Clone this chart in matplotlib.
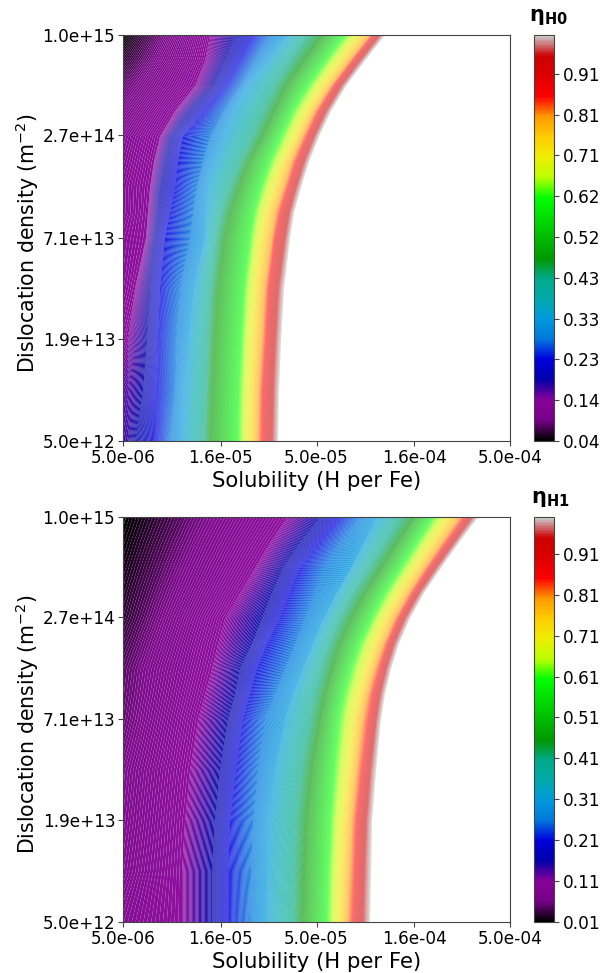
#!/usr/bin/env python3
"""Two contour maps of eta against solubility and dislocation density."""

import matplotlib
matplotlib.use("Agg")
import matplotlib.pyplot as plt
import numpy as np
from matplotlib.cm import ScalarMappable
from matplotlib.colors import ListedColormap, Normalize

# log10 of dislocation density, one value per table row (bottom to top)
LOG_RHO = [12.699, 12.987, 13.274, 13.562, 13.850, 13.994, 14.137,
           14.281, 14.425, 14.569, 14.712, 14.856, 15.000]

# Per row, log10(solubility) at which eta takes the
# matching value. The first five columns pair with the *_ETA_LEFT rows, the
# other nine with the fixed *_ETA_BANDS. Past the last column eta is above
# the colour scale and nothing is drawn.
H0_LOG_SOL = [
    [-5.301, -5.275, -5.239, -5.125, -5.058, -4.996, -4.888, -4.851, -4.707, -4.655, -4.603, -4.583, -4.531, -4.500],
    [-5.301, -5.275, -5.198, -5.125, -5.032, -4.981, -4.877, -4.841, -4.702, -4.650, -4.598, -4.578, -4.526, -4.495],
    [-5.301, -5.275, -5.177, -5.120, -5.027, -4.959, -4.866, -4.830, -4.691, -4.639, -4.582, -4.562, -4.515, -4.484],
    [-5.301, -5.239, -5.161, -5.110, -5.006, -4.934, -4.851, -4.810, -4.676, -4.624, -4.567, -4.547, -4.500, -4.469],
    [-5.301, -5.182, -5.136, -5.084, -4.955, -4.877, -4.820, -4.774, -4.645, -4.593, -4.531, -4.516, -4.464, -4.438],
    [-5.301, -5.172, -5.120, -5.058, -4.939, -4.872, -4.794, -4.743, -4.624, -4.567, -4.510, -4.489, -4.443, -4.417],
    [-5.301, -5.161, -5.110, -5.032, -4.919, -4.862, -4.753, -4.701, -4.588, -4.526, -4.469, -4.448, -4.407, -4.381],
    [-5.301, -5.141, -5.084, -5.017, -4.888, -4.826, -4.702, -4.650, -4.542, -4.480, -4.428, -4.407, -4.366, -4.340],
    [-5.301, -5.110, -5.048, -4.991, -4.851, -4.779, -4.639, -4.577, -4.484, -4.417, -4.371, -4.350, -4.314, -4.288],
    [-5.301, -5.032, -4.955, -4.877, -4.779, -4.722, -4.583, -4.515, -4.422, -4.355, -4.309, -4.288, -4.252, -4.226],
    [-5.301, -4.929, -4.836, -4.774, -4.696, -4.649, -4.520, -4.453, -4.344, -4.277, -4.226, -4.210, -4.174, -4.148],
    [-5.301, -4.877, -4.774, -4.696, -4.619, -4.551, -4.438, -4.360, -4.252, -4.184, -4.128, -4.112, -4.076, -4.050],
    [-5.301, -4.851, -4.722, -4.629, -4.541, -4.453, -4.350, -4.267, -4.154, -4.087, -4.025, -4.009, -3.973, -3.947],
]
H0_ETA_LEFT = [
    [0.165, 0.170, 0.184, 0.232, 0.280],
    [0.155, 0.160, 0.184, 0.232, 0.280],
    [0.136, 0.141, 0.184, 0.232, 0.280],
    [0.126, 0.136, 0.184, 0.232, 0.280],
    [0.122, 0.136, 0.184, 0.232, 0.280],
    [0.117, 0.136, 0.184, 0.232, 0.280],
    [0.117, 0.136, 0.184, 0.232, 0.280],
    [0.112, 0.136, 0.184, 0.232, 0.280],
    [0.107, 0.136, 0.184, 0.232, 0.280],
    [0.093, 0.136, 0.184, 0.232, 0.280],
    [0.078, 0.136, 0.184, 0.232, 0.280],
    [0.059, 0.136, 0.184, 0.232, 0.280],
    [0.040, 0.136, 0.184, 0.232, 0.280],
]
H0_ETA_BANDS = [0.328, 0.424, 0.472, 0.616, 0.712, 0.808, 0.856, 0.952, 1.000]
H0_TICKS = [0.04, 0.1365, 0.233, 0.3295, 0.426, 0.5225, 0.619, 0.7155, 0.812, 0.9085]
H0_TICK_LABELS = ["0.04", "0.14", "0.23", "0.33", "0.43", "0.52", "0.62", "0.71", "0.81", "0.91"]

H1_LOG_SOL = [
    [-5.301, -4.996, -4.841, -4.758, -4.645, -4.557, -4.428, -4.371, -4.247, -4.190, -4.139, -4.113, -4.061, -4.025],
    [-5.301, -4.996, -4.841, -4.758, -4.640, -4.556, -4.422, -4.360, -4.241, -4.184, -4.128, -4.102, -4.055, -4.019],
    [-5.301, -4.981, -4.826, -4.748, -4.629, -4.551, -4.412, -4.350, -4.231, -4.169, -4.117, -4.092, -4.045, -4.014],
    [-5.301, -4.955, -4.800, -4.717, -4.603, -4.515, -4.386, -4.324, -4.210, -4.143, -4.091, -4.065, -4.024, -3.993],
    [-5.301, -4.913, -4.758, -4.681, -4.567, -4.464, -4.340, -4.278, -4.185, -4.113, -4.061, -4.030, -3.994, -3.968],
    [-5.301, -4.877, -4.722, -4.645, -4.516, -4.422, -4.314, -4.252, -4.159, -4.087, -4.035, -4.009, -3.973, -3.947],
    [-5.301, -4.841, -4.696, -4.608, -4.464, -4.371, -4.278, -4.216, -4.123, -4.050, -3.999, -3.973, -3.942, -3.916],
    [-5.301, -4.810, -4.634, -4.557, -4.412, -4.319, -4.237, -4.175, -4.077, -4.009, -3.953, -3.932, -3.901, -3.875],
    [-5.301, -4.774, -4.583, -4.490, -4.360, -4.262, -4.180, -4.118, -4.014, -3.952, -3.896, -3.875, -3.844, -3.818],
    [-5.301, -4.696, -4.531, -4.438, -4.309, -4.195, -4.112, -4.045, -3.947, -3.879, -3.823, -3.802, -3.771, -3.745],
    [-5.301, -4.619, -4.474, -4.386, -4.257, -4.122, -4.029, -3.962, -3.864, -3.797, -3.740, -3.719, -3.683, -3.657],
    [-5.301, -4.541, -4.386, -4.283, -4.169, -4.055, -3.952, -3.879, -3.781, -3.714, -3.652, -3.626, -3.590, -3.564],
    [-5.301, -4.453, -4.283, -4.180, -4.076, -3.988, -3.869, -3.792, -3.699, -3.626, -3.559, -3.533, -3.497, -3.466],
]
H1_ETA_LEFT = [
    [0.079, 0.109, 0.159, 0.208, 0.258],
    [0.069, 0.109, 0.159, 0.208, 0.258],
    [0.064, 0.109, 0.159, 0.208, 0.258],
    [0.060, 0.109, 0.159, 0.208, 0.258],
    [0.050, 0.109, 0.159, 0.208, 0.258],
    [0.047, 0.109, 0.159, 0.208, 0.258],
    [0.045, 0.109, 0.159, 0.208, 0.258],
    [0.038, 0.109, 0.159, 0.208, 0.258],
    [0.030, 0.109, 0.159, 0.208, 0.258],
    [0.025, 0.109, 0.159, 0.208, 0.258],
    [0.020, 0.109, 0.159, 0.208, 0.258],
    [0.015, 0.109, 0.159, 0.208, 0.258],
    [0.010, 0.109, 0.159, 0.208, 0.258],
]
H1_ETA_BANDS = [0.307, 0.406, 0.456, 0.604, 0.703, 0.802, 0.852, 0.951, 1.000]
H1_TICKS = [0.01, 0.11, 0.21, 0.31, 0.41, 0.51, 0.61, 0.71, 0.81, 0.91]
H1_TICK_LABELS = ["0.01", "0.11", "0.21", "0.31", "0.41", "0.51", "0.61", "0.71", "0.81", "0.91"]

SOL_TICKS = [5.0e-6, 1.6e-5, 5.0e-5, 1.6e-4, 5.0e-4]
RHO_TICKS = [5.0e12, 1.9e13, 7.1e13, 2.7e14, 1.0e15]

W, H = 603, 973
AXIS_GREY = "#444444"


def washed_cmap():
    # the map is paler than its colour bar; the contour seams add the rest
    t = np.linspace(0, 1, 512)
    base = plt.get_cmap("nipy_spectral")(t)[:, :3]
    wash = np.interp(t, [0, 0.05, 0.3, 0.85, 1.0], [0.0, 0.05, 0.1, 0.14, 0.14])[:, None]
    return ListedColormap(base + (1 - base) * wash)


def draw_panel(fig, top, bottom, log_sol, eta_left, eta_bands, ticks, tick_labels, title, title_x):
    ax = fig.add_axes([123 / W, 1 - bottom / H, 387 / W, (bottom - top) / H])
    cax = fig.add_axes([534 / W, 1 - bottom / H, 20 / W, (bottom - top) / H])

    x = np.array(log_sol)
    y = np.repeat(np.array(LOG_RHO)[:, None], x.shape[1], axis=1)
    bands = np.repeat(np.array(eta_bands)[None, :], x.shape[0], axis=0)
    z = np.hstack([np.array(eta_left), bands])
    vmin = ticks[0]
    norm = Normalize(vmin=vmin, vmax=1.0)
    levels = np.linspace(vmin, 1.0, 500)
    ax.contourf(x, y, z, levels=levels, cmap=washed_cmap(), norm=norm, antialiased=True)

    ax.set_xlim(np.log10(SOL_TICKS[0]), np.log10(SOL_TICKS[-1]))
    ax.set_ylim(np.log10(RHO_TICKS[0]), np.log10(RHO_TICKS[-1]))
    ax.set_xticks(np.log10(SOL_TICKS))
    ax.set_xticklabels(["%.1e" % v for v in SOL_TICKS])
    ax.set_yticks(np.log10(RHO_TICKS))
    ax.set_yticklabels(["%.1e" % v for v in RHO_TICKS])
    ax.tick_params(labelsize=12.2, pad=2, color=AXIS_GREY)
    for spine in ax.spines.values():
        spine.set_color(AXIS_GREY)
    ax.set_xlabel("Solubility (H per Fe)", fontsize=15.2, labelpad=3)
    ax.set_ylabel("Dislocation density (m$^{-2}$)", fontsize=14.8, labelpad=1, y=0.488)

    cbar = fig.colorbar(ScalarMappable(norm=norm, cmap="nipy_spectral"), cax=cax)
    cbar.set_ticks(ticks)
    cbar.set_ticklabels(tick_labels)
    cbar.ax.tick_params(labelsize=12.2, pad=3, color=AXIS_GREY)
    cbar.outline.set_edgecolor(AXIS_GREY)
    fig.text(title_x / W, 1 - (top - 8) / H, title, fontsize=15, ha="center", va="bottom")


def main():
    fig = plt.figure(figsize=(W / 100, H / 100), dpi=100)
    draw_panel(fig, 35, 441, H0_LOG_SOL, H0_ETA_LEFT, H0_ETA_BANDS, H0_TICKS, H0_TICK_LABELS,
               r"$\mathbf{\eta_{H0}}$", 548)
    draw_panel(fig, 517, 922, H1_LOG_SOL, H1_ETA_LEFT, H1_ETA_BANDS, H1_TICKS, H1_TICK_LABELS,
               r"$\mathbf{\eta_{H1}}$", 550)
    fig.savefig("out.png", dpi=100)


if __name__ == "__main__":
    main()
